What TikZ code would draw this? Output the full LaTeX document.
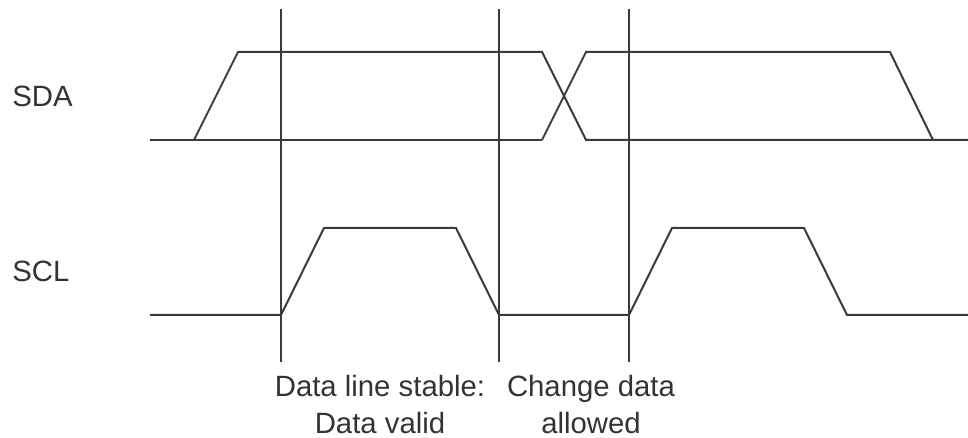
\documentclass[tikz,border=0pt]{standalone}
\usepackage{fontspec}
\setmainfont{Liberation Sans}
\definecolor{wire}{HTML}{3A3A3A}
\definecolor{ink}{HTML}{333333}

\begin{document}
\begin{tikzpicture}[x=0.75pt, y=-0.75pt]
        \tikzstyle{sig} = [draw=wire, line width=1.5pt, line join=miter]
        \tikzstyle{guide} = [draw=wire, line width=1.4pt]
        \tikzstyle{lbl} = [text=ink, inner sep=0pt, font=\fontsize{22}{27.75}\selectfont]
        \useasboundingbox (0,0) rectangle (968,438);
        \node[lbl, anchor=base west] (sda) at (12,106.5) {SDA};
        \node[lbl, anchor=base west] (scl) at (12,281.5) {SCL};
        \node[lbl, anchor=base, align=center] (valid) at (380,433.5) {Data line stable:\\Data valid};
        \node[lbl, anchor=base, align=center] (change) at (591,433.5) {Change data\\allowed};
        % SDA
        \draw[sig] (150,140) -- (542,140);
        \draw[sig] (194,140) -- (238,52) -- (542,52) -- (586,140) -- (968,140);
        \draw[sig] (542,140) -- (586,52) -- (890,52) -- (933,140);
        % SCL
        \draw[sig] (150,315) -- (281,315) -- (324,228) -- (456,228) -- (499,315)
              -- (629,315) -- (672,228) -- (804,228) -- (847,315) -- (968,315);
        % guides
        \foreach \x in {281,499,629}
          \draw[guide] (\x,9) -- (\x,362);
      \end{tikzpicture}
\end{document}
